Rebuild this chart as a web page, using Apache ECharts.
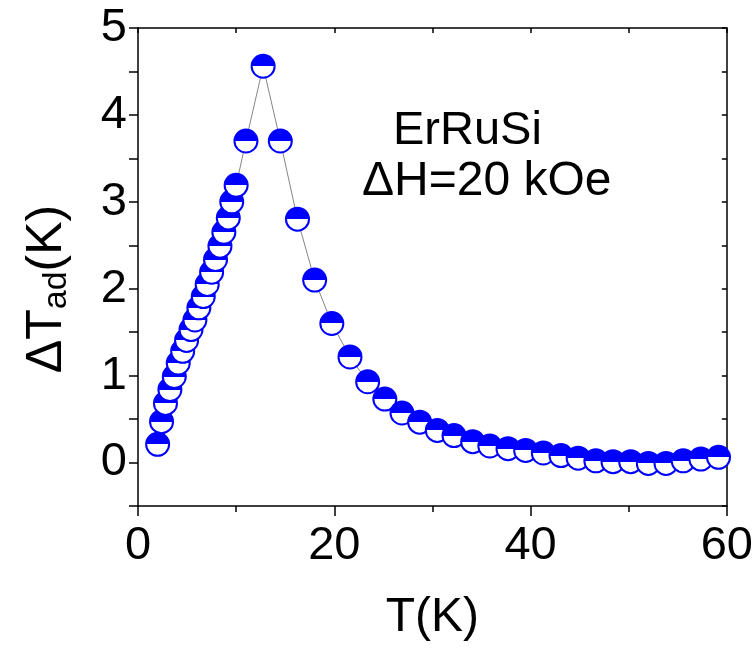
<!DOCTYPE html>
<html>
<head>
<meta charset="utf-8">
<script src="https://cdn.jsdelivr.net/npm/echarts@6/dist/echarts.min.js"></script>
<style>
html,body{margin:0;padding:0;background:#fff;}
#chart{width:756px;height:651px;}
</style>
</head>
<body>
<div id="chart"></div>
<script>
// Temperature (K)
var temps = [2.0,2.4,2.8,3.25,3.7,4.1,4.55,4.95,5.4,5.8,6.2,6.65,7.05,7.5,7.9,8.35,8.75,9.2,9.55,10.0,
  11.0,12.75,14.5,16.25,18.0,19.75,21.6,23.4,25.15,26.9,28.7,30.5,32.2,34.1,35.85,37.7,39.5,41.3,
  43.1,44.85,46.65,48.4,50.2,52.0,53.8,55.55,57.35,59.15];
// Adiabatic temperature change (K)
var dTad = [0.21,0.47,0.68,0.84,0.99,1.145,1.28,1.405,1.53,1.64,1.78,1.91,2.05,2.19,2.335,2.49,2.65,2.815,3.0,3.19,
  3.70,4.56,3.70,2.80,2.10,1.60,1.215,0.93,0.73,0.57,0.465,0.37,0.31,0.24,0.19,0.16,0.14,0.11,
  0.08,0.05,0.02,0.01,0.01,-0.01,-0.01,0.02,0.04,0.06];
var xTickLabels = ['0','20','40','60'];
var yTickLabels = ['0','1','2','3','4','5'];
var sampleName = 'ErRuSi';
var fieldLabel = '\u0394H=20 kOe';

var FONT = '"Liberation Sans", Arial, sans-serif';
var blue = '#0000ff';
var chart = echarts.init(document.getElementById('chart'), null, {renderer:'canvas'});
var halfFill = new echarts.graphic.LinearGradient(0,0,0,1,[
  {offset:0,color:blue},{offset:0.5,color:blue},{offset:0.5,color:'#ffffff'},{offset:1,color:'#ffffff'}]);

var pts = temps.map(function(t,i){return [t,dTad[i]];});

chart.setOption({
  backgroundColor:'#ffffff',
  animation:false,
  grid:{left:138,right:29,top:28,bottom:145,containLabel:false},
  xAxis:[{
    type:'value',min:0,max:60,interval:20,
    axisLine:{show:true,onZero:false,lineStyle:{color:'#000',width:1.5}},
    axisTick:{show:true,inside:false,length:10,lineStyle:{color:'#000',width:1.5}},
    minorTick:{show:true,splitNumber:2,length:6,lineStyle:{color:'#000',width:1.5}},
    splitLine:{show:false},
    axisLabel:{fontFamily:FONT,fontSize:47,color:'#000',margin:17,
      formatter:function(v){var s=String(v);return xTickLabels.indexOf(s)>=0?s:'';}},
    name:'T(K)',nameLocation:'middle',nameGap:88,
    nameTextStyle:{fontFamily:FONT,fontSize:48,color:'#000'}
  },{
    type:'value',min:0,max:60,interval:20,position:'top',
    axisLine:{show:true,onZero:false,lineStyle:{color:'#000',width:1.5}},
    axisTick:{show:true,inside:true,length:5,lineStyle:{color:'#000',width:1.5}},
    minorTick:{show:true,splitNumber:2,length:5,lineStyle:{color:'#000',width:1.5}},
    axisLabel:{show:false},splitLine:{show:false}
  }],
  yAxis:[{
    type:'value',min:-0.5,max:5,interval:0.5,
    axisLine:{show:true,onZero:false,lineStyle:{color:'#000',width:1.5}},
    axisTick:{show:true,inside:false,length:9,lineStyle:{color:'#000',width:1.5}},
    splitLine:{show:false},
    axisLabel:{fontFamily:FONT,fontSize:47,color:'#000',margin:11,
      formatter:function(v){var s=String(v);return yTickLabels.indexOf(s)>=0?s:'';}},
    name:'{a|\u0394T}{b|ad}{a|(K)}',nameLocation:'middle',nameGap:64,nameRotate:90,
    nameTextStyle:{padding:[0,44,0,0],rich:{
      a:{fontFamily:FONT,fontSize:50,color:'#000'},
      b:{fontFamily:FONT,fontSize:34,color:'#000',verticalAlign:'bottom',padding:[20,0,0,0]}
    }}
  },{
    type:'value',min:-0.5,max:5,interval:0.5,position:'right',
    axisLine:{show:true,onZero:false,lineStyle:{color:'#000',width:1.5}},
    axisTick:{show:true,inside:true,length:5,lineStyle:{color:'#000',width:1.5}},
    axisLabel:{show:false},splitLine:{show:false}
  }],
  series:[{
    type:'line',data:pts,xAxisIndex:0,yAxisIndex:0,
    symbol:'circle',symbolSize:23,showAllSymbol:true,
    lineStyle:{color:'#666',width:0.8},
    itemStyle:{color:halfFill,borderColor:blue,borderWidth:2},
    z:3
  }],
  graphic:[
    {type:'text',left:393,top:108,style:{text:sampleName,font:'47px '+FONT,fill:'#000'}},
    {type:'text',left:362,top:158,style:{text:fieldLabel,font:'48px '+FONT,fill:'#000'}}
  ]
});
</script>
</body>
</html>
